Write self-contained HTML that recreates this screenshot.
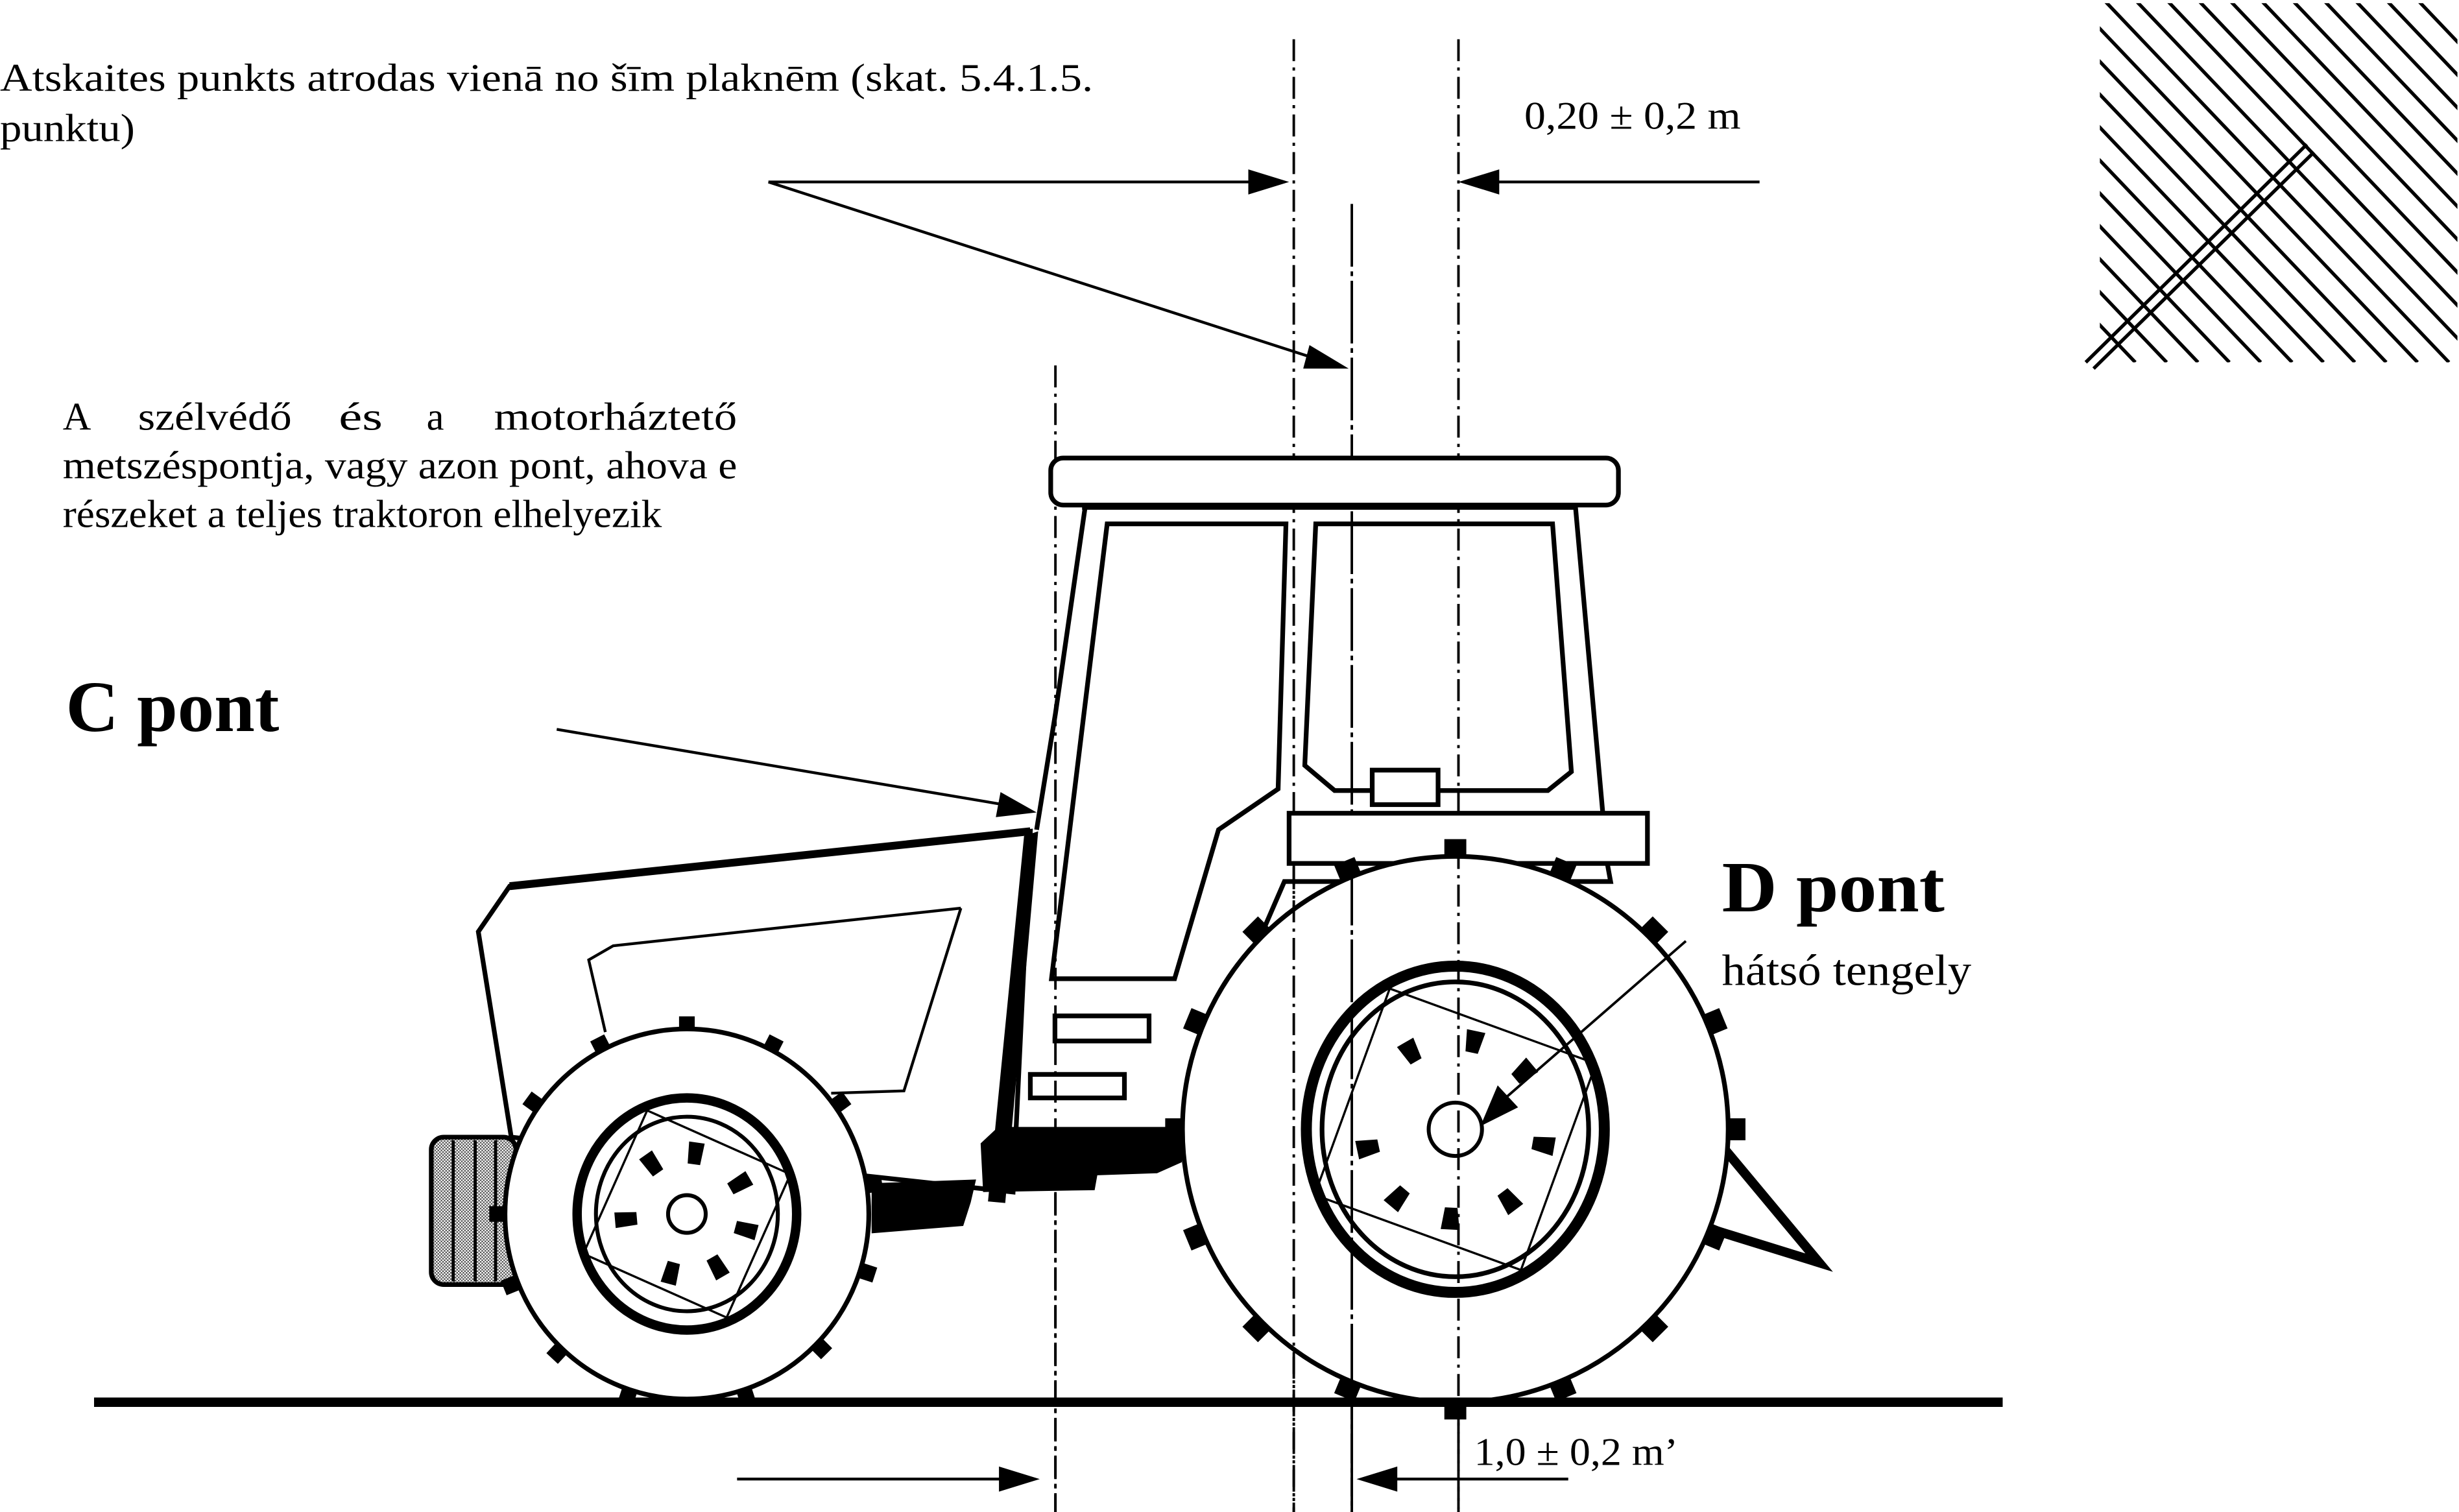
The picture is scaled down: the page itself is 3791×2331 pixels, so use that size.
<!DOCTYPE html>
<html><head><meta charset="utf-8"><style>
html,body{margin:0;padding:0;background:#fff}
svg{display:block}
text{font-family:"Liberation Serif",serif;fill:#000}
</style></head><body>
<svg width="3791" height="2331" viewBox="0 0 1568 964" preserveAspectRatio="none" xmlns="http://www.w3.org/2000/svg">
<defs>
<clipPath id="hc"><rect x="1339" y="2" width="228" height="229"/></clipPath>
<pattern id="dots" width="2" height="2" patternUnits="userSpaceOnUse"><rect width="2" height="2" fill="#fff"/><rect width="1" height="1" fill="#555"/><rect x="1" y="1" width="1" height="1" fill="#555"/></pattern>
</defs>
<rect width="1568" height="964" fill="#fff"/>

<!-- texts -->
<text x="0" y="58" font-size="25" textLength="697" lengthAdjust="spacingAndGlyphs">Atskaites punkts atrodas vienā no šīm plaknēm (skat. 5.4.1.5.</text>
<text x="0" y="90" font-size="25" textLength="86" lengthAdjust="spacingAndGlyphs">punktu)</text>
<text x="972" y="82" font-size="25" textLength="138" lengthAdjust="spacingAndGlyphs">0,20 ± 0,2 m</text>
<text x="40" y="274" font-size="25">A</text>
<text x="88" y="274" font-size="25" textLength="98" lengthAdjust="spacingAndGlyphs">szélvédő</text>
<text x="216" y="274" font-size="25" textLength="28" lengthAdjust="spacingAndGlyphs">és</text>
<text x="272" y="274" font-size="25">a</text>
<text x="315" y="274" font-size="25" textLength="155" lengthAdjust="spacingAndGlyphs">motorháztető</text>
<text x="40" y="305" font-size="25" textLength="430" lengthAdjust="spacingAndGlyphs">metszéspontja, vagy azon pont, ahova e</text>
<text x="40" y="336" font-size="25" textLength="382" lengthAdjust="spacingAndGlyphs">részeket a teljes traktoron elhelyezik</text>
<text x="42" y="466" font-size="46" font-weight="bold" textLength="136" lengthAdjust="spacingAndGlyphs">C pont</text>
<text x="1098" y="581" font-size="46" font-weight="bold" textLength="142" lengthAdjust="spacingAndGlyphs">D pont</text>
<text x="1098" y="628" font-size="28" textLength="159" lengthAdjust="spacingAndGlyphs">hátsó tengely</text>
<text x="940" y="934" font-size="25" textLength="130" lengthAdjust="spacingAndGlyphs">1,0 ± 0,2 m’</text>

<!-- hatch square -->
<g clip-path="url(#hc)" stroke="#000" stroke-width="2.2">
<line x1="1141.6" y1="0" x2="1361.6" y2="231"/><line x1="1161.6" y1="0" x2="1381.6" y2="231"/><line x1="1181.6" y1="0" x2="1401.6" y2="231"/><line x1="1201.6" y1="0" x2="1421.6" y2="231"/><line x1="1221.6" y1="0" x2="1441.6" y2="231"/><line x1="1241.6" y1="0" x2="1461.6" y2="231"/><line x1="1261.6" y1="0" x2="1481.6" y2="231"/><line x1="1281.6" y1="0" x2="1501.6" y2="231"/><line x1="1301.6" y1="0" x2="1521.6" y2="231"/><line x1="1321.6" y1="0" x2="1541.6" y2="231"/><line x1="1341.6" y1="0" x2="1561.6" y2="231"/><line x1="1361.6" y1="0" x2="1581.6" y2="231"/><line x1="1381.6" y1="0" x2="1601.6" y2="231"/><line x1="1401.6" y1="0" x2="1621.6" y2="231"/><line x1="1421.6" y1="0" x2="1641.6" y2="231"/><line x1="1441.6" y1="0" x2="1661.6" y2="231"/><line x1="1461.6" y1="0" x2="1681.6" y2="231"/><line x1="1481.6" y1="0" x2="1701.6" y2="231"/><line x1="1501.6" y1="0" x2="1721.6" y2="231"/><line x1="1521.6" y1="0" x2="1741.6" y2="231"/><line x1="1541.6" y1="0" x2="1761.6" y2="231"/>
</g>
<g stroke="#000" stroke-width="2.2">
<line x1="1330" y1="231" x2="1471" y2="92"/>
<line x1="1335" y1="235" x2="1475.5" y2="97"/>
</g>

<!-- vertical reference lines -->
<g stroke="#000" stroke-width="1.6" fill="none">
<line x1="673" y1="233" x2="673" y2="964" stroke-dasharray="14 4 2 4"/>
<line x1="825" y1="25" x2="825" y2="964" stroke-dasharray="14 4 2 4"/>
<line x1="930" y1="25" x2="930" y2="964" stroke-dasharray="14 4 2 4"/>
<line x1="862" y1="130" x2="862" y2="964" stroke-dasharray="40 3 3 3"/>
</g>

<!-- arrows -->
<g stroke="#000" stroke-width="1.8">
<line x1="490" y1="116" x2="800" y2="116"/>
<line x1="490" y1="116" x2="840" y2="229"/>
<line x1="1122" y1="116" x2="952" y2="116"/>
<line x1="355" y1="465" x2="640" y2="513"/>
<line x1="470" y1="943" x2="642" y2="943"/>
<line x1="1000" y1="943" x2="886" y2="943"/>
</g>
<g fill="#000">
<polygon points="822,116 796,108 796,124"/>
<polygon points="860,235 835,220 831,235"/>
<polygon points="930,116 956,108 956,124"/>
<polygon points="661,518 638,505 635,521"/>
<polygon points="663,943 637,935 637,951"/>
<polygon points="865,943 891,935 891,951"/>
</g>

<line x1="60" y1="894" x2="1277" y2="894" stroke="#000" stroke-width="6"/>

<!-- tractor body -->
<g stroke="#000" fill="none" stroke-linejoin="miter">
<polyline points="1100,733 1160,805 1089,783" stroke-width="6"/>
<rect x="275" y="725" width="54" height="94" rx="8" fill="url(#dots)" stroke-width="3"/>
<g stroke-width="2"><line x1="289" y1="727" x2="289" y2="817"/><line x1="303" y1="727" x2="303" y2="817"/><line x1="316" y1="727" x2="316" y2="817"/></g>
<polygon points="325,565 657,530 646,760 326,725 305,594" fill="#fff" stroke-width="3"/>
<line x1="325" y1="565" x2="657" y2="530" stroke-width="5"/>
<polyline points="612.7,579 576.4,695.5 530,697" stroke-width="1.8"/>
<polyline points="612.7,579 391,603 375.4,612 386,658" stroke-width="1.8"/>
<rect x="670" y="292" width="362" height="30" rx="8" fill="#fff" stroke-width="3"/>
<line x1="690" y1="323" x2="1004" y2="323" stroke-width="4"/>
<polyline points="692,323 673,455 661,529" stroke-width="3"/>
<line x1="1004.6" y1="323" x2="1022" y2="518" stroke-width="3"/>
<polygon points="706,334 820,334 815,503 777,529 749,624 670.5,624" stroke-width="3"/>
<polygon points="839,334 990,334 1002,492 987,504 851,504 832,488" stroke-width="3"/>
<rect x="875" y="491" width="42" height="22" fill="#fff" stroke-width="3"/>
<rect x="822" y="518.5" width="228.5" height="32" fill="#fff" stroke-width="3"/>
<polyline points="1025,551 1027,562 819,562 806,592" stroke-width="3"/>
<rect x="672.7" y="647.7" width="60" height="16" stroke-width="3"/>
<rect x="657" y="685" width="60" height="15" stroke-width="3"/>
</g>
<g fill="#000">
<polygon points="653,533 662,530 641,767 630,766"/>
<polygon points="636.5,718.5 753.6,718.5 753.6,741 737.8,748 699.7,749.3 698,758.8 626.9,760 625.3,729"/>
<polygon points="555.8,754.4 622.4,752 619,766.6 614.2,781.6 555.8,786.3"/>
</g>

<!-- front wheel -->
<g transform="translate(438,774)">
<g fill="#000">
<rect x="-5" y="-126" width="10" height="12"/>
<rect x="-5" y="-126" width="10" height="12" transform="rotate(27)"/>
<rect x="-5" y="-126" width="10" height="12" transform="rotate(54)"/>
<rect x="-5" y="-126" width="10" height="12" transform="rotate(81)"/>
<rect x="-5" y="-126" width="10" height="12" transform="rotate(108)"/>
<rect x="-5" y="-126" width="10" height="12" transform="rotate(135)"/>
<rect x="-5" y="-126" width="10" height="12" transform="rotate(162)"/>
<rect x="-5" y="-126" width="10" height="12" transform="rotate(-27)"/>
<rect x="-5" y="-126" width="10" height="12" transform="rotate(-54)"/>
<rect x="-5" y="-126" width="10" height="12" transform="rotate(-90)"/>
<rect x="-5" y="-126" width="10" height="12" transform="rotate(-112)"/>
<rect x="-5" y="-126" width="10" height="12" transform="rotate(-137)"/>
<rect x="-5" y="-126" width="10" height="12" transform="rotate(-162)"/>
</g>
<ellipse rx="116" ry="118" fill="#fff" stroke="#000" stroke-width="3"/>
<ellipse rx="70" ry="74" fill="none" stroke="#000" stroke-width="6"/>
<ellipse rx="58" ry="62" fill="none" stroke="#000" stroke-width="2.5"/>
<rect x="-50" y="-50" width="100" height="100" transform="rotate(24)" fill="none" stroke="#000" stroke-width="1.4"/>
<circle r="12" fill="none" stroke="#000" stroke-width="2.5"/>
<g fill="#000">
<polygon points="-5,-46 5,-46 4,-32 -4,-32" transform="rotate(8)"/>
<polygon points="-5,-46 5,-46 4,-32 -4,-32" transform="rotate(60)"/>
<polygon points="-5,-46 5,-46 4,-32 -4,-32" transform="rotate(105)"/>
<polygon points="-5,-46 5,-46 4,-32 -4,-32" transform="rotate(150)"/>
<polygon points="-5,-46 5,-46 4,-32 -4,-32" transform="rotate(195)"/>
<polygon points="-5,-46 5,-46 4,-32 -4,-32" transform="rotate(265)"/>
<polygon points="-5,-46 5,-46 4,-32 -4,-32" transform="rotate(-35)"/>
</g>
</g>

<!-- rear wheel -->
<g transform="translate(928,720)">
<g fill="#000">
<rect x="-7" y="-185" width="14" height="14"/>
<rect x="-7" y="-185" width="14" height="14" transform="rotate(22.5)"/>
<rect x="-7" y="-185" width="14" height="14" transform="rotate(45)"/>
<rect x="-7" y="-185" width="14" height="14" transform="rotate(67.5)"/>
<rect x="-7" y="-185" width="14" height="14" transform="rotate(90)"/>
<rect x="-7" y="-185" width="14" height="14" transform="rotate(112.5)"/>
<rect x="-7" y="-185" width="14" height="14" transform="rotate(135)"/>
<rect x="-7" y="-185" width="14" height="14" transform="rotate(157.5)"/>
<rect x="-7" y="-185" width="14" height="14" transform="rotate(180)"/>
<rect x="-7" y="-185" width="14" height="14" transform="rotate(202.5)"/>
<rect x="-7" y="-185" width="14" height="14" transform="rotate(225)"/>
<rect x="-7" y="-185" width="14" height="14" transform="rotate(247.5)"/>
<rect x="-7" y="-185" width="14" height="14" transform="rotate(270)"/>
<rect x="-7" y="-185" width="14" height="14" transform="rotate(292.5)"/>
<rect x="-7" y="-185" width="14" height="14" transform="rotate(315)"/>
<rect x="-7" y="-185" width="14" height="14" transform="rotate(337.5)"/>
</g>
<ellipse rx="174" ry="174" fill="#fff" stroke="#000" stroke-width="3"/>
<ellipse rx="95" ry="104" fill="none" stroke="#000" stroke-width="7"/>
<ellipse rx="85" ry="94" fill="none" stroke="#000" stroke-width="3"/>
<rect x="-70" y="-70" width="140" height="140" transform="rotate(20)" fill="none" stroke="#000" stroke-width="1.4"/>
<circle r="17" fill="none" stroke="#000" stroke-width="2.5"/>
<g fill="#000">
<polygon points="-6,-64 6,-64 4,-50 -4,-50" transform="rotate(12)"/>
<polygon points="-6,-64 6,-64 4,-50 -4,-50" transform="rotate(50)"/>
<polygon points="-6,-64 6,-64 4,-50 -4,-50" transform="rotate(100)"/>
<polygon points="-6,-64 6,-64 4,-50 -4,-50" transform="rotate(143)"/>
<polygon points="-6,-64 6,-64 4,-50 -4,-50" transform="rotate(183)"/>
<polygon points="-6,-64 6,-64 4,-50 -4,-50" transform="rotate(220)"/>
<polygon points="-6,-64 6,-64 4,-50 -4,-50" transform="rotate(258)"/>
<polygon points="-6,-64 6,-64 4,-50 -4,-50" transform="rotate(-30)"/>
</g>
</g>
<g stroke="#000" stroke-width="1.6" fill="none">
<line x1="825" y1="550" x2="825" y2="964" stroke-dasharray="14 4 2 4"/>
<line x1="930" y1="540" x2="930" y2="964" stroke-dasharray="14 4 2 4"/>
<line x1="862" y1="550" x2="862" y2="964" stroke-dasharray="40 3 3 3"/>
<line x1="673" y1="760" x2="673" y2="964" stroke-dasharray="14 4 2 4"/>
</g>
<line x1="60" y1="894" x2="1277" y2="894" stroke="#000" stroke-width="6"/>
<line x1="1075" y1="600" x2="960" y2="700" stroke="#000" stroke-width="1.6"/>
<polygon points="944,718 955,692 968,706" fill="#000"/>
</svg>
</body></html>
